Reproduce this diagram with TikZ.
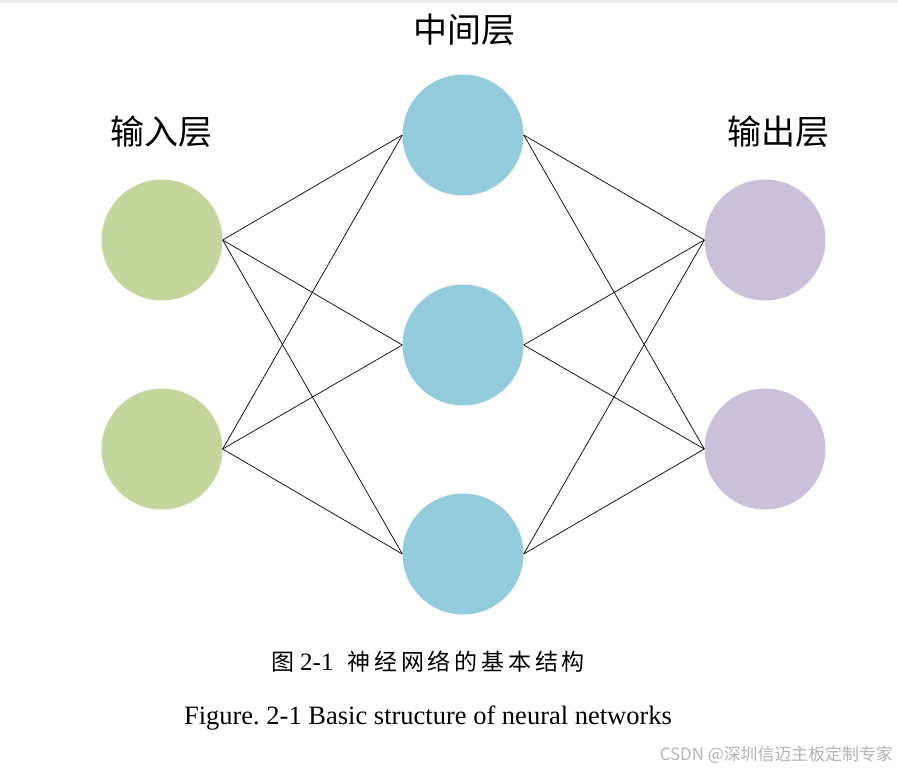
\documentclass[tikz,border=0pt]{standalone}
\usepackage{fontspec}
\setmainfont{Liberation Serif}
\newfontfamily\cjk{Noto Sans CJK SC}
\newfontfamily\cjkspaced[LetterSpace=16.5]{Noto Sans CJK SC}
\frenchspacing
\definecolor{ingreen}{HTML}{C3D69B}
\definecolor{midblue}{HTML}{93CDDD}
\definecolor{outpurple}{HTML}{CCC1DA}
\definecolor{wmgray}{HTML}{B4B4B4}
\definecolor{topband}{HTML}{EEEEEE}
\begin{document}
\begin{tikzpicture}[x=1pt,y=-1pt,
  neuron/.style={circle,minimum size=121pt,inner sep=0pt,draw=none},
  innode/.style={neuron,fill=ingreen},
  midnode/.style={neuron,fill=midblue},
  outnode/.style={neuron,fill=outpurple},
  link/.style={black,line width=0.7pt},
  layerlabel/.style={font=\cjk\fontsize{34}{38}\selectfont,inner sep=0pt}]
\useasboundingbox (0,0) rectangle (898,771);
\fill[white] (0,0) rectangle (898,771);
\fill[topband] (0,0) rectangle (898,3);
\node[innode] (i1) at (162,240) {};
\node[innode] (i2) at (162,449) {};
\node[midnode] (m1) at (463,135) {};
\node[midnode] (m2) at (463,345) {};
\node[midnode] (m3) at (463,554) {};
\node[outnode] (o1) at (765,240) {};
\node[outnode] (o2) at (765,449) {};
\foreach \a in {i1,i2}{\foreach \b in {m1,m2,m3}{\draw[link] (\a.east) -- (\b.west);}}
\foreach \a in {m1,m2,m3}{\foreach \b in {o1,o2}{\draw[link] (\a.east) -- (\b.west);}}
\node[layerlabel] (lm) at (464,30) {中间层};
\node[layerlabel] (li) at (161,132) {输入层};
\node[layerlabel] (lo) at (778,132) {输出层};
\node[inner sep=0pt,anchor=west,font=\fontsize{23}{26}\selectfont] (cap1) at (271,662) {{\cjk 图}\hspace{6pt}{\fontsize{25}{28}\selectfont 2-1}\hspace{14pt}{\cjkspaced 神经网络的基本结构}};
\node[inner sep=0pt,font=\fontsize{26.5}{30}\selectfont] (cap2) at (428,718) {Figure. 2-1 Basic structure of neural networks};
\node[inner sep=0pt,text=wmgray,font=\cjk\fontsize{16.9}{20}\selectfont,anchor=east] (wm) at (893,755) {CSDN @深圳信迈主板定制专家};
\end{tikzpicture}
\end{document}
